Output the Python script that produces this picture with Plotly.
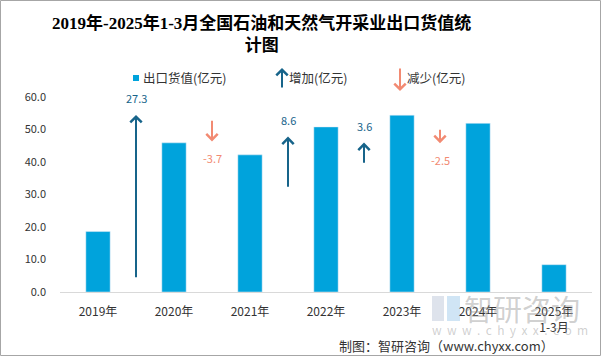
import plotly.graph_objects as go

# ---------------- data ----------------
categories = ["2019年", "2020年", "2021年", "2022年", "2023年", "2024年", "2025年<br>1-3月"]
export_value = [18.6, 45.9, 42.2, 50.8, 54.4, 51.9, 8.4]       # 出口货值(亿元)
# arrows between consecutive years (change of export value), drawn on a hidden secondary axis
arrow_start = [2.2, 28.8, 17.3, 21.3, 27.3]                     # tail position of each arrow (secondary axis units)
y_ticks = [0, 10, 20, 30, 40, 50, 60]

changes = [round(export_value[i + 1] - export_value[i], 1) for i in range(5)]

BAR = "#00A3DC"
UP = "#17648A"
DOWN = "#F28A72"
FONT = "Noto Sans CJK SC, Noto Sans, sans-serif"

W, H = 601, 356
L, R, T, B = 60, 9, 97, 64
PW, PH = W - L - R, H - T - B


def px(x):
    return (x - L) / PW


def py(y):
    return (H - B - y) / PH


fig = go.Figure()
fig.add_trace(go.Bar(
    x=list(range(len(categories))), y=export_value,
    marker_color=BAR, width=0.32, showlegend=False, hoverinfo="y",
))
# invisible trace to activate y2
fig.add_trace(go.Scatter(x=[0], y=[0], yaxis="y2", mode="markers",
                         marker=dict(opacity=0), showlegend=False, hoverinfo="skip"))

ann = []
for i, (start, ch) in enumerate(zip(arrow_start, changes)):
    xm = i + 0.5
    tail, head = start, start + ch
    if ch >= 0:
        col, shift = UP, 17
    else:
        col, shift = DOWN, -17
    ann.append(dict(x=xm, y=head, ax=xm, ay=tail, xref="x", yref="y2", axref="x", ayref="y2",
                    text="", showarrow=True, arrowhead=4, arrowsize=1.1, arrowwidth=2,
                    arrowcolor=col, standoff=0, startstandoff=0))
    lab = f"{ch:.1f}"
    ann.append(dict(x=xm, y=head, xref="x", yref="y2", text=lab, showarrow=False,
                    xanchor="center", yanchor="middle", yshift=shift,
                    font=dict(size=11, color=(UP if ch >= 0 else DOWN), family=FONT)))


def text_ann(x, y, text, size, color, xanchor="left", family=FONT):
    return dict(x=px(x), y=py(y), xref="paper", yref="paper", text=text, showarrow=False,
                xanchor=xanchor, yanchor="middle", font=dict(size=size, color=color, family=family))


# title
ann.append(text_ann(261, 34, "<b>2019年-2025年1-3月全国石油和天然气开采业出口货值统<br>计图</b>", 17, "black",
                    xanchor="center", family="Liberation Serif, Noto Sans CJK SC, serif"))

# legend
ann.append(text_ann(141, 78, "出口货值(亿元)", 12.5, "#333"))
ann.append(dict(x=px(282), y=py(68), xref="paper", yref="paper", text="", showarrow=True,
                ax=0, ay=21, arrowhead=4, arrowsize=1.1, arrowwidth=2, arrowcolor=UP, standoff=0))
ann.append(text_ann(287, 78, "增加(亿元)", 12.5, "#333"))
ann.append(dict(x=px(400), y=py(91), xref="paper", yref="paper", text="", showarrow=True,
                ax=0, ay=-24, arrowhead=4, arrowsize=1.1, arrowwidth=2, arrowcolor=DOWN, standoff=0))
ann.append(text_ann(405, 78, "减少(亿元)", 12.5, "#333"))

# watermark
ann.append(text_ann(462, 308, "智研咨询", 29, "rgba(150,150,150,0.45)"))
ann.append(text_ann(430, 329, "w\u00a0\u00a0w\u00a0\u00a0w\u00a0\u00a0.\u00a0\u00a0c\u00a0\u00a0h\u00a0\u00a0y\u00a0\u00a0x\u00a0\u00a0x\u00a0\u00a0.\u00a0\u00a0c\u00a0\u00a0o\u00a0\u00a0m",
                    12, "rgba(150,150,150,0.45)"))

# footer
ann.append(text_ann(556, 345, "制图：智研咨询（www.chyxx.com）", 13, "#333", xanchor="right"))

shapes = [
    # outer border
    dict(type="rect", xref="paper", yref="paper", x0=px(0.5), x1=px(W - 0.5), y0=py(H - 0.5), y1=py(0.5),
         line=dict(color="#A6A6A6", width=1), fillcolor="rgba(0,0,0,0)", layer="above"),
    # legend square
    dict(type="rect", xref="paper", yref="paper", x0=px(133), x1=px(139), y0=py(81), y1=py(75),
         line=dict(width=0), fillcolor=BAR),
    # watermark logo (approximation)
    dict(type="rect", xref="paper", yref="paper", x0=px(432), x1=px(444), y0=py(321), y1=py(296),
         line=dict(width=0), fillcolor="rgba(160,175,200,0.35)"),
    dict(type="rect", xref="paper", yref="paper", x0=px(447), x1=px(460), y0=py(321), y1=py(296),
         line=dict(width=0), fillcolor="rgba(120,180,225,0.35)"),
]

fig.update_layout(
    width=W, height=H,
    margin=dict(l=L, r=R, t=T, b=B),
    paper_bgcolor="white", plot_bgcolor="white",
    xaxis=dict(tickvals=list(range(len(categories))), ticktext=categories, range=[-0.5, 6.5],
               showline=True, linecolor="#D9D9D9", linewidth=1, ticks="", showgrid=False,
               tickfont=dict(size=12, color="#333", family=FONT), zeroline=False, ticklabelstandoff=9),
    yaxis=dict(range=[0, 60], tickvals=y_ticks, tickformat=".1f", showgrid=False, zeroline=False,
               showline=False, ticks="", tickfont=dict(size=11, color="#333", family=FONT), ticklabelstandoff=13),
    yaxis2=dict(range=[0, 32.5], overlaying="y", side="right", visible=False),
    annotations=ann, shapes=shapes, bargap=0.68, showlegend=False,
)

fig.write_html("out.html", config={"displayModeBar": False},
               post_script="document.body.style.margin='0';document.body.style.padding='0';")
